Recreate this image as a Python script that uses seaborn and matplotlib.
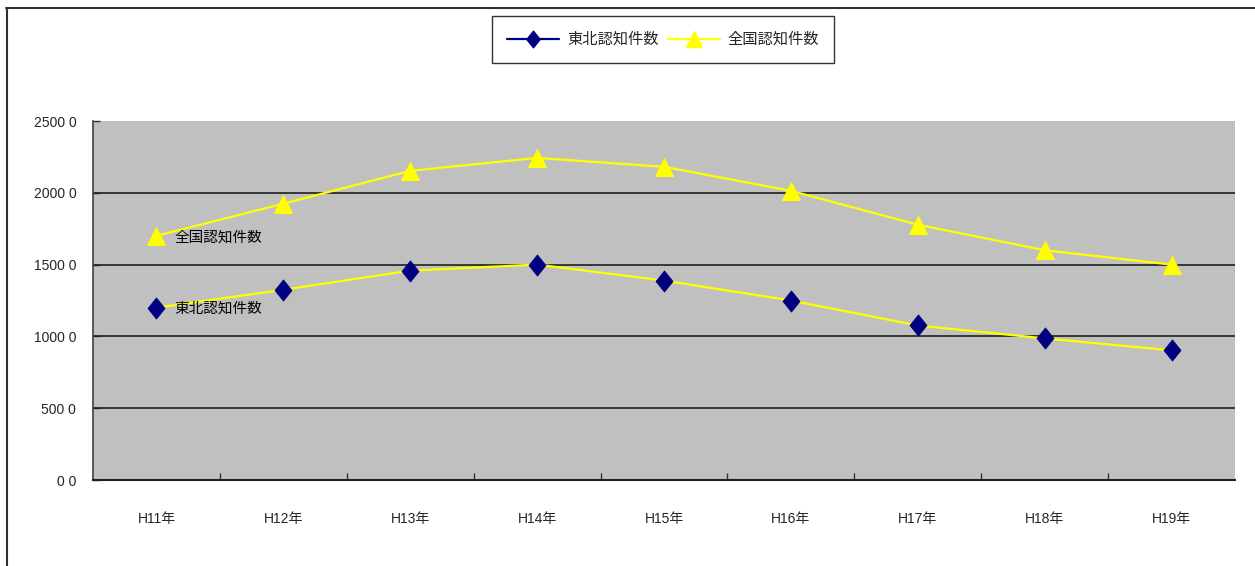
import matplotlib
matplotlib.use("Agg")
import matplotlib.pyplot as plt
from matplotlib.lines import Line2D
from matplotlib.path import Path
from matplotlib.ticker import FixedLocator, FixedFormatter
import seaborn as sns
import pandas as pd

# Data
years = ["H11年", "H12年", "H13年", "H14年", "H15年", "H16年", "H17年", "H18年", "H19年"]
tohoku = [1200, 1325, 1458, 1500, 1389, 1250, 1076, 986, 903]
zenkoku = [1701, 1924, 2153, 2243, 2181, 2014, 1778, 1600, 1500]
tohoku_name = "東北認知件数"
zenkoku_name = "全国認知件数"
yticks = [0, 500, 1000, 1500, 2000, 2500]
ytick_labels = ["0 0", "500 0", "1000 0", "1500 0", "2000 0", "2500 0"]

sns.set_style("white")
plt.rcParams["font.family"] = ["Liberation Sans", "Noto Sans CJK JP", "DejaVu Sans"]

W, H = 1255, 566
fig = plt.figure(figsize=(W / 100, H / 100), dpi=100)
ax = fig.add_axes([93 / W, (H - 480) / H, (1235 - 93) / W, (480 - 121) / H])
ax.set_facecolor("#C0C0C0")

df = pd.DataFrame({"x": list(range(len(years))), tohoku_name: tohoku, zenkoku_name: zenkoku})

diamond = Path([(0, 1), (0.8, 0), (0, -1), (-0.8, 0), (0, 1)],
               [Path.MOVETO, Path.LINETO, Path.LINETO, Path.LINETO, Path.CLOSEPOLY])

yellow = "#FFFF00"
navy = "#000080"

# Both connecting lines are drawn in yellow
sns.lineplot(data=df, x="x", y=zenkoku_name, ax=ax, color=yellow, linewidth=1.6,
             marker="^", markersize=13, markerfacecolor=yellow, markeredgecolor=yellow,
             zorder=4)
sns.lineplot(data=df, x="x", y=tohoku_name, ax=ax, color=yellow, linewidth=1.6,
             marker=diamond, markersize=15, markerfacecolor=navy, markeredgecolor=navy,
             zorder=4)

# Series name next to first point
cjk = ["Noto Sans CJK JP", "DejaVu Sans"]
ax.annotate(zenkoku_name, (0, zenkoku[0]), xytext=(13, -1), textcoords="offset points",
            ha="left", va="center", fontsize=10.5, family=cjk, color="black", zorder=5)
ax.annotate(tohoku_name, (0, tohoku[0]), xytext=(13, -1), textcoords="offset points",
            ha="left", va="center", fontsize=10.5, family=cjk, color="black", zorder=5)

ax.set_xlim(-0.5, len(years) - 0.5)
ax.set_ylim(0, 2500)

# Horizontal gridlines
for v in yticks[1:-1]:
    ax.axhline(v, color="#202020", linewidth=1.2, zorder=2)

ax.yaxis.set_major_locator(FixedLocator(yticks))
ax.yaxis.set_major_formatter(FixedFormatter(ytick_labels))
ax.tick_params(axis="y", direction="in", length=5, width=1, color="#333333",
               pad=12, labelsize=10, left=True)

ax.xaxis.set_major_locator(FixedLocator(list(range(len(years)))))
ax.xaxis.set_major_formatter(FixedFormatter(years))
ax.xaxis.set_minor_locator(FixedLocator([i + 0.5 for i in range(len(years) - 1)]))
ax.tick_params(axis="x", which="major", length=0, pad=23, labelsize=10)
ax.tick_params(axis="x", which="minor", direction="in", length=5, width=1,
               color="#333333", bottom=True)
ax.set_xlabel("")
ax.set_ylabel("")

for side in ["top", "right"]:
    ax.spines[side].set_visible(False)
ax.spines["left"].set_color("#404040")
ax.spines["left"].set_linewidth(1.2)
ax.spines["bottom"].set_color("#202020")
ax.spines["bottom"].set_linewidth(1.5)

# Legend
handles = [
    Line2D([], [], color=navy, linewidth=1.6, marker=diamond, markersize=12,
           markerfacecolor=navy, markeredgecolor=navy),
    Line2D([], [], color=yellow, linewidth=1.6, marker="^", markersize=11,
           markerfacecolor=yellow, markeredgecolor=yellow),
]
leg = fig.legend(handles, [tohoku_name, zenkoku_name], loc="center",
                 bbox_to_anchor=(663 / W, 1 - 39.5 / H), ncol=2, frameon=True,
                 fancybox=False, edgecolor="#333333", framealpha=1,
                 handlelength=3.4, columnspacing=0.6, handletextpad=0.5,
                 borderpad=1.0, borderaxespad=0, prop={"family": cjk, "size": 11})
leg.get_frame().set_linewidth(1.0)

# Outer chart frame (left and top edges)
fig.add_artist(Line2D([6.5 / W, 6.5 / W], [0, 1 - 7.5 / H], color="#303030",
                      linewidth=1.5, transform=fig.transFigure))
fig.add_artist(Line2D([6 / W, 1], [1 - 7.5 / H, 1 - 7.5 / H], color="#303030",
                      linewidth=1.5, transform=fig.transFigure))

fig.savefig("out.png", dpi=100, facecolor="white")
